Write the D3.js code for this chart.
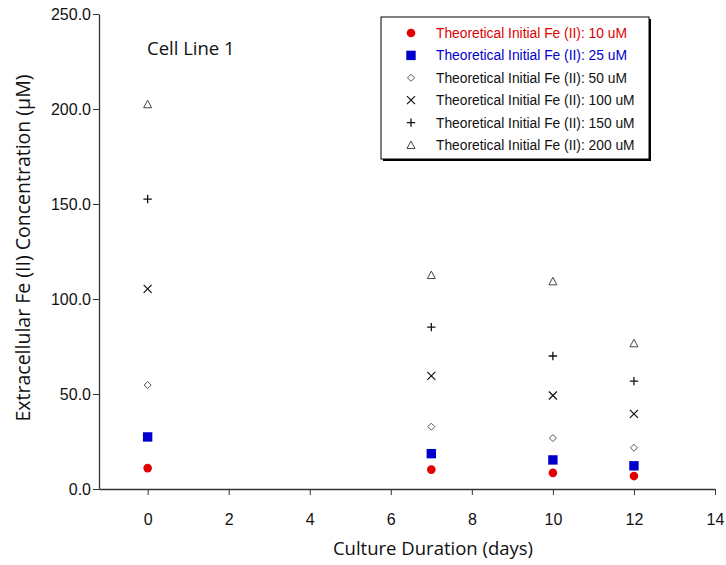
<!DOCTYPE html>
<html><head><meta charset="utf-8">
<script src="https://cdn.jsdelivr.net/npm/d3@7"></script>
<style>body{margin:0;background:#fff}</style>
</head><body>
<svg id="c" width="726" height="565"></svg>
<script>
const days = [0, 7, 10, 12];
const seriesNames = ["Theoretical Initial Fe (II): 10 uM","Theoretical Initial Fe (II): 25 uM","Theoretical Initial Fe (II): 50 uM","Theoretical Initial Fe (II): 100 uM","Theoretical Initial Fe (II): 150 uM","Theoretical Initial Fe (II): 200 uM"];
const fe10  = [11.0, 10.2, 8.5, 6.8];
const fe25  = [27.4, 18.6, 15.3, 12.2];
const fe50  = [54.7, 32.8, 26.8, 21.7];
const fe100 = [105.3, 59.5, 49.2, 39.5];
const fe150 = [152.6, 85.2, 70.0, 56.8];
const fe200 = [202.5, 112.6, 109.3, 76.7];
const yTicks = [0, 50, 100, 150, 200, 250];
const xTicks = [0, 2, 4, 6, 8, 10, 12, 14];

const series = [fe10, fe25, fe50, fe100, fe150, fe200];
const types = ["circle","square","diamond","x","plus","triangle"];
const colors = ["#e00000","#0000cc","#555","#111","#111","#444"];

const svg = d3.select("#c");
const x = d3.scaleLinear().domain([-1.2, 14]).range([99, 715]);
const y = d3.scaleLinear().domain([0, 250]).range([489, 14]);

function drawMarker(g, type, color) {
  if (type === "circle") g.append("circle").attr("r", 4.3).attr("fill", color);
  else if (type === "square") g.append("rect").attr("x", -4.7).attr("y", -4.7).attr("width", 9.4).attr("height", 9.4).attr("fill", color);
  else if (type === "diamond") g.append("path").attr("d", "M0,-3.5L3.5,0L0,3.5L-3.5,0Z").attr("fill", "none").attr("stroke", color).attr("stroke-width", 1);
  else if (type === "x") g.append("path").attr("d", "M-4,-4L4,4M-4,4L4,-4").attr("stroke", color).attr("stroke-width", 1.2);
  else if (type === "plus") g.append("path").attr("d", "M-4.2,0L4.2,0M0,-4.2L0,4.2").attr("stroke", color).attr("stroke-width", 1.3);
  else if (type === "triangle") g.append("path").attr("d", "M0,-4L4,3.5L-4,3.5Z").attr("fill", "none").attr("stroke", color).attr("stroke-width", 1);
}

// axes
const yAxis = d3.axisLeft(y).tickValues(yTicks).tickFormat(d3.format(".1f")).tickSize(6).tickSizeOuter(0);
const gy = svg.append("g").attr("transform", "translate(99,0)").call(yAxis);
const xAxis = d3.axisBottom(x).tickValues(xTicks).tickFormat(d3.format("d")).tickSize(6).tickSizeOuter(0);
const gx = svg.append("g").attr("transform", "translate(0,489)").call(xAxis);
[gx, gy].forEach(g => {
  g.selectAll("path.domain").attr("stroke", "#333").attr("stroke-width", 1.3);
  g.selectAll(".tick line").attr("stroke", "#333");
  g.selectAll(".tick text").attr("font-family", "Liberation Sans, Arial, sans-serif").attr("font-size", 16).attr("fill", "#111");
});
gx.selectAll(".tick text").attr("y", 0).attr("dy", 0).attr("dominant-baseline", "auto").attr("transform", "translate(0,36)");
gy.selectAll(".tick text").attr("x", -8);

// axis titles
svg.append("text").attr("x", 433).attr("y", 555).attr("text-anchor", "middle")
  .attr("font-family", "Open Sans, Lato, sans-serif").attr("font-size", 18.5).attr("fill", "#111")
  .text("Culture Duration (days)");
svg.append("text").attr("transform", "translate(30,248) rotate(-90)").attr("text-anchor", "middle")
  .attr("font-family", "Open Sans, Lato, sans-serif").attr("font-size", 19.5).attr("fill", "#111")
  .text("Extracellular Fe (II) Concentration (µM)");

svg.append("text").attr("x", 147).attr("y", 55)
  .attr("font-family", "Open Sans, Lato, sans-serif").attr("font-size", 18.5).attr("fill", "#111")
  .text("Cell Line 1");

// points
series.forEach((vals, i) => {
  vals.forEach((v, j) => {
    const g = svg.append("g").attr("transform", `translate(${x(days[j])},${y(v)})`);
    drawMarker(g, types[i], colors[i]);
  });
});

// legend
const lg = svg.append("g");
lg.append("rect").attr("x", 383).attr("y", 19).attr("width", 268).attr("height", 142).attr("fill", "#000");
lg.append("rect").attr("x", 381).attr("y", 17).attr("width", 268).attr("height", 142).attr("fill", "#fff").attr("stroke", "#000").attr("stroke-width", 1);
const legendColors = ["#e00000","#0000cc","#111","#111","#111","#111"];
seriesNames.forEach((name, i) => {
  const yy = 33 + i * 22.4;
  const g = lg.append("g").attr("transform", `translate(411,${yy})`);
  drawMarker(g, types[i], colors[i]);
  lg.append("text").attr("x", 436).attr("y", yy + 5)
    .attr("font-family", "Liberation Sans, Arial, sans-serif").attr("font-size", 13.8)
    .attr("fill", legendColors[i]).text(name);
});
</script>
</body></html>
